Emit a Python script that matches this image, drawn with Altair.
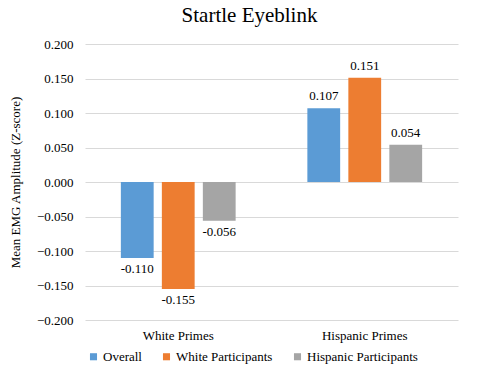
import altair as alt
import pandas as pd

primes = ["White Primes", "White Primes", "White Primes", "Hispanic Primes", "Hispanic Primes", "Hispanic Primes"]
groups = ["Overall", "White Participants", "Hispanic Participants"] * 2
values = [-0.110, -0.155, -0.056, 0.107, 0.151, 0.054]
prime_order = ["White Primes", "Hispanic Primes"]
group_order = ["Overall", "White Participants", "Hispanic Participants"]
colors = ["#5B9BD5", "#ED7D31", "#A5A5A5"]
y_ticks = [-0.2, -0.15, -0.1, -0.05, 0.0, 0.05, 0.1, 0.15, 0.2]

df = pd.DataFrame({"prime": primes, "group": groups, "value": values})
df["label"] = df["value"].map(lambda v: f"{v:.3f}")

FONT = "Liberation Serif"

x = alt.X("prime:N", sort=prime_order, title=None,
          scale=alt.Scale(paddingInner=0, paddingOuter=0),
          axis=alt.Axis(labelAngle=0, ticks=False, domain=False, grid=False, labelPadding=9,
                        labelFontSize=13, labelFont=FONT, labelColor="#000"))
xo = alt.XOffset("group:N", sort=group_order,
                 scale=alt.Scale(paddingInner=0.2, paddingOuter=0.875))
y = alt.Y("value:Q", title="Mean EMG Amplitude (Z-score)",
          scale=alt.Scale(domain=[-0.2, 0.2], nice=False),
          axis=alt.Axis(values=y_ticks, format=".3f", ticks=False, domain=False,
                        labelPadding=12, labelFontSize=13, labelFont=FONT, labelColor="#000",
                        titleFont=FONT, titleFontSize=13, titleFontWeight="normal",
                        titleColor="#000", titlePadding=14,
                        gridColor="#D9D9D9", gridWidth=1))

bars = alt.Chart(df).mark_bar().encode(
    x=x, xOffset=xo, y=y, y2=alt.datum(0),
    color=alt.Color("group:N", sort=group_order,
                    scale=alt.Scale(domain=group_order, range=colors),
                    legend=alt.Legend(title=None, orient="none", direction="horizontal",
                                      legendX=2, legendY=306, symbolType="square",
                                      symbolSize=50, symbolStrokeWidth=0,
                                      labelFont=FONT, labelFontSize=13, labelColor="#000",
                                      columnPadding=18, labelOffset=3)),
)

pos_labels = alt.Chart(df).transform_filter("datum.value >= 0").mark_text(
    baseline="bottom", dy=-5, font=FONT, fontSize=13, color="#000"
).encode(x=x, xOffset=xo, y=y, text="label:N")

neg_labels = alt.Chart(df).transform_filter("datum.value < 0").mark_text(
    baseline="top", dy=5, font=FONT, fontSize=13, color="#000"
).encode(x=x, xOffset=xo, y=y, text="label:N")

chart = alt.layer(bars, pos_labels, neg_labels).properties(
    width=373, height=276,
    title=alt.Title("Startle Eyeblink", font=FONT, fontSize=21, fontWeight="normal",
                    color="#000", dx=-22, offset=12),
    autosize=alt.AutoSizeParams(type="none"),
    padding={"left": 85, "top": 44, "right": 25, "bottom": 55},
).configure(
    background="white", font=FONT
).configure_view(stroke="transparent", strokeWidth=0
).configure_axis(labelFont=FONT, titleFont=FONT
).configure_legend(labelFont=FONT)

chart.save("out.html", embed_options={"renderer": "svg", "actions": False})
